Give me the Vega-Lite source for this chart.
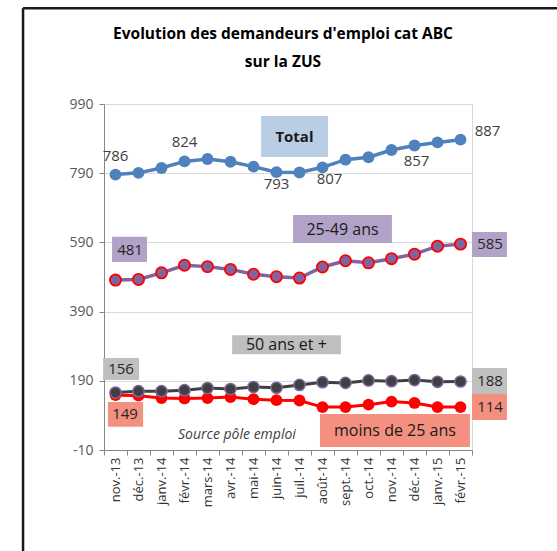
{
  "$schema": "https://vega.github.io/schema/vega-lite/v6.json",
  "width": 368,
  "height": 346,
  "autosize": {"type": "none"},
  "padding": {"left": 104, "top": 104, "right": 85, "bottom": 101},
  "background": "white",
  "config": {"font": "Open Sans", "view": {"stroke": "#d9d9d9", "strokeWidth": 1}},
  "title": {
    "text": ["Evolution des demandeurs d'emploi cat ABC", "sur la ZUS"],
    "font": "Open Sans",
    "fontSize": 15.5,
    "fontWeight": "bold",
    "color": "#000000",
    "anchor": "middle",
    "frame": "group",
    "offset": -64,
    "lineHeight": 28,
    "dx": -5
  },
  "datasets": {
    "series": [
      {"month": "nov.-13", "serie": "Total", "value": 786},
      {"month": "déc.-13", "serie": "Total", "value": 791},
      {"month": "janv.-14", "serie": "Total", "value": 805},
      {"month": "févr.-14", "serie": "Total", "value": 824},
      {"month": "mars-14", "serie": "Total", "value": 831},
      {"month": "avr.-14", "serie": "Total", "value": 823},
      {"month": "mai-14", "serie": "Total", "value": 809},
      {"month": "juin-14", "serie": "Total", "value": 793},
      {"month": "juil.-14", "serie": "Total", "value": 792},
      {"month": "août-14", "serie": "Total", "value": 807},
      {"month": "sept.-14", "serie": "Total", "value": 829},
      {"month": "oct.-14", "serie": "Total", "value": 836},
      {"month": "nov.-14", "serie": "Total", "value": 857},
      {"month": "déc.-14", "serie": "Total", "value": 870},
      {"month": "janv.-15", "serie": "Total", "value": 879},
      {"month": "févr.-15", "serie": "Total", "value": 887},
      {"month": "nov.-13", "serie": "25-49 ans", "value": 481},
      {"month": "déc.-13", "serie": "25-49 ans", "value": 483},
      {"month": "janv.-14", "serie": "25-49 ans", "value": 502},
      {"month": "févr.-14", "serie": "25-49 ans", "value": 524},
      {"month": "mars-14", "serie": "25-49 ans", "value": 520},
      {"month": "avr.-14", "serie": "25-49 ans", "value": 512},
      {"month": "mai-14", "serie": "25-49 ans", "value": 498},
      {"month": "juin-14", "serie": "25-49 ans", "value": 491},
      {"month": "juil.-14", "serie": "25-49 ans", "value": 487},
      {"month": "août-14", "serie": "25-49 ans", "value": 519},
      {"month": "sept.-14", "serie": "25-49 ans", "value": 537},
      {"month": "oct.-14", "serie": "25-49 ans", "value": 531},
      {"month": "nov.-14", "serie": "25-49 ans", "value": 543},
      {"month": "déc.-14", "serie": "25-49 ans", "value": 556},
      {"month": "janv.-15", "serie": "25-49 ans", "value": 579},
      {"month": "févr.-15", "serie": "25-49 ans", "value": 585},
      {"month": "nov.-13", "serie": "moins de 25 ans", "value": 149},
      {"month": "déc.-13", "serie": "moins de 25 ans", "value": 147},
      {"month": "janv.-14", "serie": "moins de 25 ans", "value": 140},
      {"month": "févr.-14", "serie": "moins de 25 ans", "value": 139},
      {"month": "mars-14", "serie": "moins de 25 ans", "value": 140},
      {"month": "avr.-14", "serie": "moins de 25 ans", "value": 143},
      {"month": "mai-14", "serie": "moins de 25 ans", "value": 137},
      {"month": "juin-14", "serie": "moins de 25 ans", "value": 134},
      {"month": "juil.-14", "serie": "moins de 25 ans", "value": 133},
      {"month": "août-14", "serie": "moins de 25 ans", "value": 114},
      {"month": "sept.-14", "serie": "moins de 25 ans", "value": 114},
      {"month": "oct.-14", "serie": "moins de 25 ans", "value": 121},
      {"month": "nov.-14", "serie": "moins de 25 ans", "value": 130},
      {"month": "déc.-14", "serie": "moins de 25 ans", "value": 126},
      {"month": "janv.-15", "serie": "moins de 25 ans", "value": 114},
      {"month": "févr.-15", "serie": "moins de 25 ans", "value": 114},
      {"month": "nov.-13", "serie": "50 ans et +", "value": 156},
      {"month": "déc.-13", "serie": "50 ans et +", "value": 160},
      {"month": "janv.-14", "serie": "50 ans et +", "value": 160},
      {"month": "févr.-14", "serie": "50 ans et +", "value": 163},
      {"month": "mars-14", "serie": "50 ans et +", "value": 169},
      {"month": "avr.-14", "serie": "50 ans et +", "value": 166},
      {"month": "mai-14", "serie": "50 ans et +", "value": 172},
      {"month": "juin-14", "serie": "50 ans et +", "value": 170},
      {"month": "juil.-14", "serie": "50 ans et +", "value": 178},
      {"month": "août-14", "serie": "50 ans et +", "value": 186},
      {"month": "sept.-14", "serie": "50 ans et +", "value": 184},
      {"month": "oct.-14", "serie": "50 ans et +", "value": 191},
      {"month": "nov.-14", "serie": "50 ans et +", "value": 189},
      {"month": "déc.-14", "serie": "50 ans et +", "value": 192},
      {"month": "janv.-15", "serie": "50 ans et +", "value": 187},
      {"month": "févr.-15", "serie": "50 ans et +", "value": 188}
    ],
    "boxes": [
      {"kind": "total", "bx1": 6.33, "bx2": 9.24, "by1": 955, "by2": 837},
      {"kind": "a", "bx1": 7.72, "bx2": 12.02, "by1": 669, "by2": 588},
      {"kind": "a", "bx1": -0.15, "bx2": 1.37, "by1": 606, "by2": 533},
      {"kind": "a", "bx1": 15.5, "bx2": 17.02, "by1": 620, "by2": 548},
      {"kind": "b", "bx1": 5.07, "bx2": 9.8, "by1": 322, "by2": 267},
      {"kind": "b", "bx1": -0.54, "bx2": 1.02, "by1": 256, "by2": 192},
      {"kind": "b", "bx1": 15.5, "bx2": 17.02, "by1": 227, "by2": 152},
      {"kind": "c", "bx1": -0.33, "bx2": 1.2, "by1": 129, "by2": 57},
      {"kind": "c", "bx1": 15.5, "bx2": 17.02, "by1": 152, "by2": 77},
      {"kind": "c", "bx1": 8.89, "bx2": 15.41, "by1": 94, "by2": -1}
    ],
    "notes": [
      {"label": "Total", "style": "bold", "nx": 7.78, "ny": 896},
      {"label": "25-49 ans", "style": "plain", "nx": 9.87, "ny": 626},
      {"label": "50 ans et +", "style": "plain", "nx": 7.43, "ny": 293},
      {"label": "moins de 25 ans", "style": "plain", "nx": 12.15, "ny": 45},
      {"label": "Source  pôle emploi", "style": "italic", "nx": 5.28, "ny": 33}
    ],
    "frame": [
      {"fx1": -4.02, "fx2": 22, "fy1": 1267, "fy2": 1267},
      {"fx1": -4.02, "fx2": -4.02, "fy1": 1267, "fy2": -450}
    ]
  },
  "layer": [
    {
      "layer": [
        {
          "data": {"name": "frame"},
          "mark": {"type": "rule", "color": "#1a1a1a", "strokeWidth": 2.5},
          "encoding": {
            "x": {"field": "fx1", "type": "quantitative", "scale": {"domain": [-0.5, 15.5], "nice": false, "zero": false}, "axis": null},
            "x2": {"field": "fx2"},
            "y": {"field": "fy1", "type": "quantitative", "scale": {"domain": [-10, 990], "nice": false, "zero": false}, "axis": null},
            "y2": {"field": "fy2"}
          }
        },
        {
          "data": {"name": "boxes"},
          "mark": {"type": "rect"},
          "encoding": {
            "x": {"field": "bx1", "type": "quantitative", "scale": {"domain": [-0.5, 15.5], "nice": false, "zero": false}, "axis": null},
            "x2": {"field": "bx2"},
            "y": {"field": "by1", "type": "quantitative", "scale": {"domain": [-10, 990], "nice": false, "zero": false}, "axis": null},
            "y2": {"field": "by2"},
            "fill": {"field": "kind", "type": "nominal", "scale": {"domain": ["total", "a", "b", "c"], "range": ["#B9CDE5", "#B3A2C7", "#BFBFBF", "#F3907F"]}, "legend": null}
          }
        },
        {
          "data": {"name": "notes"},
          "transform": [{"filter": "datum.style === 'bold'"}],
          "mark": {"type": "text", "fontSize": 15, "fontWeight": "bold", "color": "#1a1a1a"},
          "encoding": {
            "x": {"field": "nx", "type": "quantitative", "scale": {"domain": [-0.5, 15.5], "nice": false, "zero": false}, "axis": null},
            "y": {"field": "ny", "type": "quantitative", "scale": {"domain": [-10, 990], "nice": false, "zero": false}, "axis": null},
            "text": {"field": "label"}
          }
        },
        {
          "data": {"name": "notes"},
          "transform": [{"filter": "datum.style === 'plain'"}],
          "mark": {"type": "text", "fontSize": 16, "color": "#1a1a1a"},
          "encoding": {
            "x": {"field": "nx", "type": "quantitative", "scale": {"domain": [-0.5, 15.5], "nice": false, "zero": false}, "axis": null},
            "y": {"field": "ny", "type": "quantitative", "scale": {"domain": [-10, 990], "nice": false, "zero": false}, "axis": null},
            "text": {"field": "label"}
          }
        },
        {
          "data": {"name": "notes"},
          "transform": [{"filter": "datum.style === 'italic'"}],
          "mark": {"type": "text", "fontSize": 14, "fontStyle": "italic", "color": "#404040"},
          "encoding": {
            "x": {"field": "nx", "type": "quantitative", "scale": {"domain": [-0.5, 15.5], "nice": false, "zero": false}, "axis": null},
            "y": {"field": "ny", "type": "quantitative", "scale": {"domain": [-10, 990], "nice": false, "zero": false}, "axis": null},
            "text": {"field": "label"}
          }
        }
      ]
    },
    {
      "layer": [
        {
          "data": {"name": "series"},
          "transform": [{"filter": "datum.serie === 'Total'"}],
          "mark": {"type": "line", "color": "#4F81BD", "strokeWidth": 3.5, "point": {"filled": true, "fill": "#4F81BD", "stroke": "#4F81BD", "strokeWidth": 0, "size": 140}},
          "encoding": {
            "x": {"field": "month", "type": "ordinal", "sort": null, "scale": {"type": "band", "paddingInner": 0, "paddingOuter": 0},
              "axis": {"title": null, "tickBand": "extent", "labelAngle": -90, "labelAlign": "right", "labelBaseline": "middle", "labelPadding": 2, "labelFontSize": 13, "labelColor": "#333333", "domainColor": "#868686", "tickColor": "#868686", "tickSize": 5, "grid": false}},
            "y": {"field": "value", "type": "quantitative", "scale": {"domain": [-10, 990], "nice": false, "zero": false},
              "axis": {"title": null, "values": [-10, 190, 390, 590, 790, 990], "labelExpr": "'' + datum.value", "grid": true, "gridColor": "#d9d9d9", "domainColor": "#868686", "tickColor": "#868686", "tickSize": 5, "labelColor": "#595959", "labelFontSize": 14, "labelPadding": 6}}
          }
        },
        {
          "data": {"name": "series"},
          "transform": [{"filter": "datum.serie === '25-49 ans'"}],
          "mark": {"type": "line", "color": "#8064A2", "strokeWidth": 3.5, "point": {"filled": true, "fill": "#8064A2", "stroke": "#FF0000", "strokeWidth": 1.8, "size": 125}},
          "encoding": {
            "x": {"field": "month", "type": "ordinal", "sort": null},
            "y": {"field": "value", "type": "quantitative", "scale": {"domain": [-10, 990], "nice": false, "zero": false}}
          }
        },
        {
          "data": {"name": "series"},
          "transform": [{"filter": "datum.serie === 'moins de 25 ans'"}],
          "mark": {"type": "line", "color": "#FF0000", "strokeWidth": 3, "point": {"filled": true, "fill": "#FF0000", "stroke": "#FF0000", "strokeWidth": 0, "size": 140}},
          "encoding": {
            "x": {"field": "month", "type": "ordinal", "sort": null},
            "y": {"field": "value", "type": "quantitative", "scale": {"domain": [-10, 990], "nice": false, "zero": false}}
          }
        },
        {
          "data": {"name": "series"},
          "transform": [{"filter": "datum.serie === '50 ans et +'"}],
          "mark": {"type": "line", "color": "#404040", "strokeWidth": 3, "point": {"filled": true, "fill": "#404040", "stroke": "#8064A2", "strokeWidth": 1.5, "size": 125}},
          "encoding": {
            "x": {"field": "month", "type": "ordinal", "sort": null},
            "y": {"field": "value", "type": "quantitative", "scale": {"domain": [-10, 990], "nice": false, "zero": false}}
          }
        },
        {
          "data": {"name": "series"},
          "transform": [{"filter": "datum.serie === 'Total' && (datum.month === 'nov.-13' || datum.month === 'févr.-14')"}],
          "mark": {"type": "text", "fontSize": 15, "color": "#404040", "dy": -19},
          "encoding": {
            "x": {"field": "month", "type": "ordinal", "sort": null},
            "y": {"field": "value", "type": "quantitative", "scale": {"domain": [-10, 990], "nice": false, "zero": false}},
            "text": {"field": "value", "type": "quantitative"}
          }
        },
        {
          "data": {"name": "series"},
          "transform": [{"filter": "datum.serie === 'Total' && datum.month === 'juin-14'"}],
          "mark": {"type": "text", "fontSize": 15, "color": "#404040", "dy": 12},
          "encoding": {
            "x": {"field": "month", "type": "ordinal", "sort": null},
            "y": {"field": "value", "type": "quantitative", "scale": {"domain": [-10, 990], "nice": false, "zero": false}},
            "text": {"field": "value", "type": "quantitative"}
          }
        },
        {
          "data": {"name": "series"},
          "transform": [{"filter": "datum.serie === 'Total' && datum.month === 'août-14'"}],
          "mark": {"type": "text", "fontSize": 15, "color": "#404040", "dy": 12, "dx": 7},
          "encoding": {
            "x": {"field": "month", "type": "ordinal", "sort": null},
            "y": {"field": "value", "type": "quantitative", "scale": {"domain": [-10, 990], "nice": false, "zero": false}},
            "text": {"field": "value", "type": "quantitative"}
          }
        },
        {
          "data": {"name": "series"},
          "transform": [{"filter": "datum.serie === 'Total' && datum.month === 'nov.-14'"}],
          "mark": {"type": "text", "fontSize": 15, "color": "#404040", "dy": 11, "dx": 25},
          "encoding": {
            "x": {"field": "month", "type": "ordinal", "sort": null},
            "y": {"field": "value", "type": "quantitative", "scale": {"domain": [-10, 990], "nice": false, "zero": false}},
            "text": {"field": "value", "type": "quantitative"}
          }
        },
        {
          "data": {"name": "series"},
          "transform": [{"filter": "datum.serie === 'Total' && datum.month === 'févr.-15'"}],
          "mark": {"type": "text", "fontSize": 15, "color": "#404040", "dy": -9, "dx": 27},
          "encoding": {
            "x": {"field": "month", "type": "ordinal", "sort": null},
            "y": {"field": "value", "type": "quantitative", "scale": {"domain": [-10, 990], "nice": false, "zero": false}},
            "text": {"field": "value", "type": "quantitative"}
          }
        },
        {
          "data": {"name": "series"},
          "transform": [{"filter": "datum.month === 'févr.-15' && datum.serie !== 'Total'"}],
          "mark": {"type": "text", "fontSize": 15, "color": "#262626", "dx": 29.5},
          "encoding": {
            "x": {"field": "month", "type": "ordinal", "sort": null},
            "y": {"field": "value", "type": "quantitative", "scale": {"domain": [-10, 990], "nice": false, "zero": false}},
            "text": {"field": "value", "type": "quantitative"}
          }
        },
        {
          "data": {"name": "series"},
          "transform": [{"filter": "datum.month === 'nov.-13' && datum.serie === '25-49 ans'"}],
          "mark": {"type": "text", "fontSize": 15, "color": "#262626", "dx": 14.5, "dy": -30},
          "encoding": {
            "x": {"field": "month", "type": "ordinal", "sort": null},
            "y": {"field": "value", "type": "quantitative", "scale": {"domain": [-10, 990], "nice": false, "zero": false}},
            "text": {"field": "value", "type": "quantitative"}
          }
        },
        {
          "data": {"name": "series"},
          "transform": [{"filter": "datum.month === 'nov.-13' && datum.serie === '50 ans et +'"}],
          "mark": {"type": "text", "fontSize": 15, "color": "#262626", "dx": 5.5, "dy": -24},
          "encoding": {
            "x": {"field": "month", "type": "ordinal", "sort": null},
            "y": {"field": "value", "type": "quantitative", "scale": {"domain": [-10, 990], "nice": false, "zero": false}},
            "text": {"field": "value", "type": "quantitative"}
          }
        },
        {
          "data": {"name": "series"},
          "transform": [{"filter": "datum.month === 'nov.-13' && datum.serie === 'moins de 25 ans'"}],
          "mark": {"type": "text", "fontSize": 15, "color": "#262626", "dx": 9.5, "dy": 19},
          "encoding": {
            "x": {"field": "month", "type": "ordinal", "sort": null},
            "y": {"field": "value", "type": "quantitative", "scale": {"domain": [-10, 990], "nice": false, "zero": false}},
            "text": {"field": "value", "type": "quantitative"}
          }
        }
      ]
    }
  ],
  "resolve": {"scale": {"x": "independent"}, "axis": {"x": "independent", "y": "independent"}}
}
